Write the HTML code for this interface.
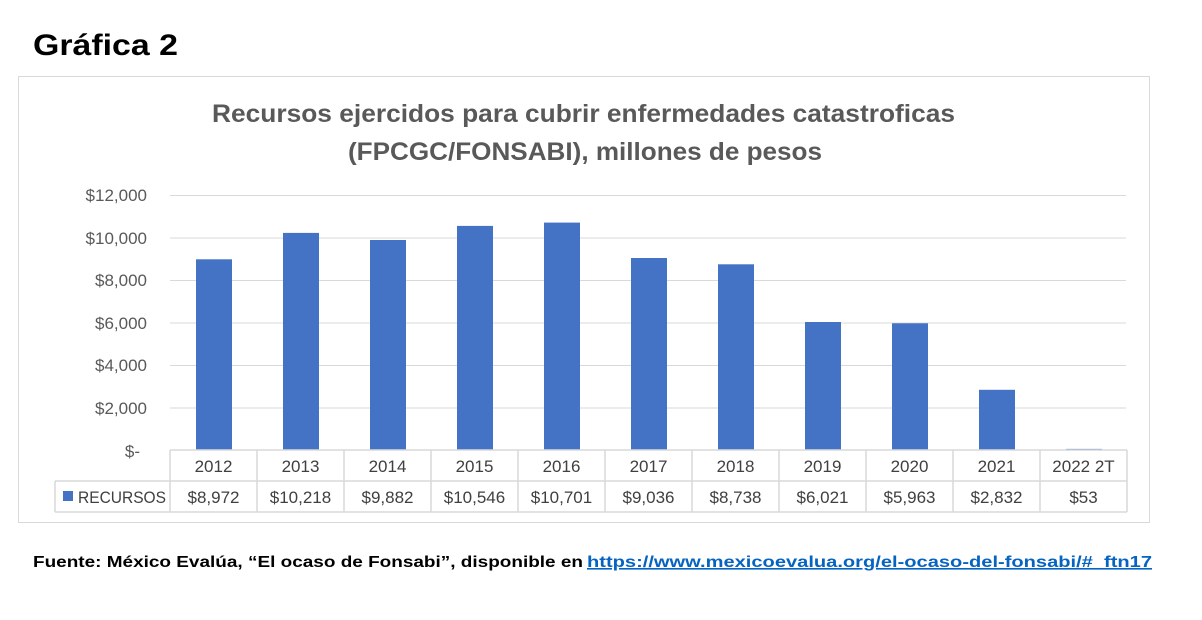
<!DOCTYPE html>
<html><head><meta charset="utf-8"><style>body{margin:0;background:#fff}svg{display:block}</style></head>
<body>
<svg width="1202" height="620" xmlns="http://www.w3.org/2000/svg" font-family="Liberation Sans, sans-serif">
<rect width="1202" height="620" fill="#fff"/>
<text x="33" y="55" font-size="30" font-weight="bold" fill="#000" textLength="145" lengthAdjust="spacingAndGlyphs">Gráfica 2</text>
<rect x="18.5" y="76.5" width="1131" height="446" fill="none" stroke="#d9d9d9"/>
<text x="212" y="122" font-size="25" font-weight="bold" fill="#595959" textLength="743" lengthAdjust="spacingAndGlyphs">Recursos ejercidos para cubrir enfermedades catastroficas</text>
<text x="348" y="160" font-size="25" font-weight="bold" fill="#595959" textLength="474" lengthAdjust="spacingAndGlyphs">(FPCGC/FONSABI), millones de pesos</text>
<g stroke="#d9d9d9" stroke-width="1">
<line x1="170" y1="195.5" x2="1126" y2="195.5"/>
<line x1="170" y1="238" x2="1126" y2="238"/>
<line x1="170" y1="280.5" x2="1126" y2="280.5"/>
<line x1="170" y1="323" x2="1126" y2="323"/>
<line x1="170" y1="365.5" x2="1126" y2="365.5"/>
<line x1="170" y1="408" x2="1126" y2="408"/>
</g>
<g font-size="17" fill="#595959" text-anchor="end">
<text x="147" y="201">$12,000</text>
<text x="147" y="244">$10,000</text>
<text x="147" y="286">$8,000</text>
<text x="147" y="329">$6,000</text>
<text x="147" y="371">$4,000</text>
<text x="147" y="414">$2,000</text>
<text x="140" y="457">$-</text>
</g>
<g fill="#4472C4">
<rect x="196" y="259.3" width="36" height="190.7"/>
<rect x="283" y="232.9" width="36" height="217.1"/>
<rect x="370" y="240" width="36" height="210"/>
<rect x="457" y="225.9" width="36" height="224.1"/>
<rect x="544" y="222.6" width="36" height="227.4"/>
<rect x="631" y="258" width="36" height="192"/>
<rect x="718" y="264.3" width="36" height="185.7"/>
<rect x="805" y="322" width="36" height="128"/>
<rect x="892" y="323.3" width="36" height="126.7"/>
<rect x="979" y="389.8" width="36" height="60.2"/>
<rect x="1066" y="448.9" width="36" height="1.1"/>
</g>
<g stroke="#d9d9d9" stroke-width="1.5" fill="none">
<line x1="170" y1="450" x2="1127" y2="450"/>
<line x1="55" y1="481" x2="1127" y2="481"/>
<line x1="55" y1="512" x2="1127" y2="512"/>
<line x1="55" y1="481" x2="55" y2="512"/>
<line x1="170" y1="450" x2="170" y2="512"/>
<line x1="257" y1="450" x2="257" y2="512"/>
<line x1="344" y1="450" x2="344" y2="512"/>
<line x1="431" y1="450" x2="431" y2="512"/>
<line x1="518" y1="450" x2="518" y2="512"/>
<line x1="605" y1="450" x2="605" y2="512"/>
<line x1="692" y1="450" x2="692" y2="512"/>
<line x1="779" y1="450" x2="779" y2="512"/>
<line x1="866" y1="450" x2="866" y2="512"/>
<line x1="953" y1="450" x2="953" y2="512"/>
<line x1="1040" y1="450" x2="1040" y2="512"/>
<line x1="1127" y1="450" x2="1127" y2="512"/>
</g>
<g font-size="17" fill="#404040" text-anchor="middle">
<text x="213.5" y="472">2012</text><text x="300.5" y="472">2013</text><text x="387.5" y="472">2014</text>
<text x="474.5" y="472">2015</text><text x="561.5" y="472">2016</text><text x="648.5" y="472">2017</text>
<text x="735.5" y="472">2018</text><text x="822.5" y="472">2019</text><text x="909.5" y="472">2020</text>
<text x="996.5" y="472">2021</text><text x="1083.5" y="472">2022 2T</text>
<text x="213.5" y="503">$8,972</text><text x="300.5" y="503">$10,218</text><text x="387.5" y="503">$9,882</text>
<text x="474.5" y="503">$10,546</text><text x="561.5" y="503">$10,701</text><text x="648.5" y="503">$9,036</text>
<text x="735.5" y="503">$8,738</text><text x="822.5" y="503">$6,021</text><text x="909.5" y="503">$5,963</text>
<text x="996.5" y="503">$2,832</text><text x="1083.5" y="503">$53</text>
</g>
<rect x="63" y="491" width="10" height="10" fill="#4472C4"/>
<text x="78" y="503" font-size="17" fill="#404040" textLength="88" lengthAdjust="spacingAndGlyphs">RECURSOS</text>
<text x="33" y="567" font-size="16" font-weight="bold" fill="#000" textLength="550" lengthAdjust="spacingAndGlyphs">Fuente: México Evalúa, “El ocaso de Fonsabi”, disponible en</text>
<text x="587" y="567" font-size="16" font-weight="bold" fill="#0563C1" text-decoration="underline" textLength="565" lengthAdjust="spacingAndGlyphs">https://www.mexicoevalua.org/el-ocaso-del-fonsabi/#_ftn17</text>
</svg>
</body></html>
